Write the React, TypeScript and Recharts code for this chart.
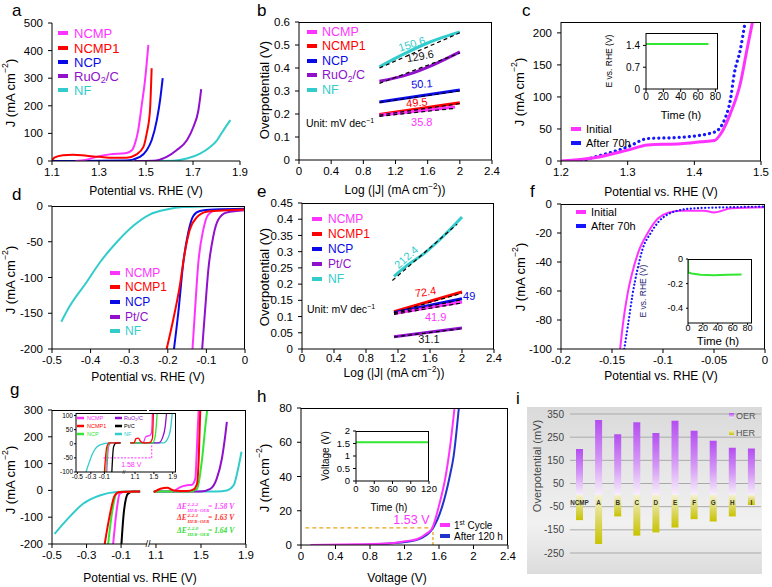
import React from 'react';
import { ComposedChart, Line, XAxis, YAxis, ReferenceLine, ReferenceDot, BarChart, Bar, CartesianGrid, LabelList } from 'recharts';

const FONT = '"Liberation Sans", Arial, Helvetica, sans-serif';
const MAG = '#ff33ff';
const RED = '#ff0000';
const BLU = '#0a0ae6';
const PUR = '#9010cc';
const CYN = '#33cccc';
const GRN = '#33e633';
const BLK = '#000000';

type Pts = [number, number][];

// ---------- panel a : OER LSV ----------
const aNCMP: Pts = [[1.2, 0], [1.247, 5], [1.29, 15], [1.346, 24], [1.417, 29], [1.44, 39], [1.453, 63], [1.467, 112], [1.481, 197], [1.496, 294], [1.51, 421]];
const aNCMP1: Pts = [[1.1, 0], [1.11, 12], [1.147, 21], [1.19, 23], [1.247, 19], [1.304, 15], [1.36, 12], [1.417, 12], [1.46, 24], [1.489, 51], [1.503, 100], [1.517, 184], [1.524, 336]];
const aNCP: Pts = [[1.1, 0], [1.417, 2], [1.474, 15], [1.503, 39], [1.524, 75], [1.546, 148], [1.56, 221], [1.571, 300]];
const aRuO2: Pts = [[1.45, 0], [1.53, 1], [1.588, 15], [1.63, 39], [1.674, 75], [1.702, 124], [1.723, 184], [1.735, 260]];
const aNF: Pts = [[1.5, 0], [1.617, 1], [1.674, 9], [1.73, 27], [1.773, 51], [1.802, 75], [1.83, 112], [1.859, 148]];

// ---------- panel b : OER Tafel ----------
const bNF: Pts = [[1.0, 0.405], [1.3, 0.46], [1.63, 0.513], [2.0, 0.557]];
const bRuO2: Pts = [[1.0, 0.342], [1.34, 0.37], [1.67, 0.414], [2.0, 0.47]];
const bNCP: Pts = [[1.0, 0.252], [2.0, 0.304]];
const bNCMP1: Pts = [[1.0, 0.198], [2.0, 0.249]];
const bNCMP: Pts = [[1.0, 0.195], [1.94, 0.23]];
const bFitNF: Pts = [[1.0, 0.4], [2.0, 0.553]];
const bFitRuO2: Pts = [[1.0, 0.333], [2.0, 0.465]];
const bFitNCP: Pts = [[1.0, 0.25], [2.0, 0.3]];
const bFitNCMP1: Pts = [[1.0, 0.195], [2.0, 0.245]];
const bFitNCMP: Pts = [[1.0, 0.19], [1.95, 0.225]];

// ---------- panel c : OER stability ----------
const cInitial: Pts = [[1.2, 0], [1.25, 5], [1.3, 17], [1.33, 25], [1.38, 27], [1.41, 30], [1.43, 32], [1.44, 43], [1.454, 74], [1.469, 121], [1.479, 174], [1.488, 221]];
const cAfter: Pts = [[1.23, 0], [1.25, 6], [1.3, 22], [1.33, 35], [1.38, 37], [1.43, 45], [1.447, 69], [1.454, 95], [1.46, 137], [1.469, 174], [1.476, 216]];
const cInset: Pts = [[0, 1.45], [72, 1.45]];

// ---------- panel d : HER LSV ----------
const dNF: Pts = [[-0.476, -162], [-0.454, -140], [-0.411, -107], [-0.376, -79], [-0.333, -51], [-0.29, -28], [-0.247, -12], [-0.203, -5], [-0.16, -1.5], [-0.1, -0.5], [0, 0]];
const dNCMP1: Pts = [[-0.203, -200], [-0.186, -159], [-0.169, -112], [-0.156, -65], [-0.143, -33], [-0.125, -16], [-0.099, -8], [-0.047, -6], [0, -5]];
const dNCP: Pts = [[-0.184, -200], [-0.173, -150], [-0.16, -80], [-0.147, -37], [-0.134, -14], [-0.117, -7], [-0.08, -5], [0, -4]];
const dNCMP: Pts = [[-0.136, -200], [-0.13, -150], [-0.121, -80], [-0.108, -33], [-0.095, -12], [-0.073, -6], [0, -5]];
const dPtC: Pts = [[-0.111, -200], [-0.104, -150], [-0.095, -89], [-0.082, -42], [-0.069, -19], [-0.048, -9], [0, -6]];

// ---------- panel e : HER Tafel ----------
const eNF: Pts = [[1.15, 0.224], [1.31, 0.257], [1.52, 0.293], [1.73, 0.339], [2.0, 0.407]];
const eNCMP1: Pts = [[1.15, 0.115], [2.0, 0.176]];
const eNCP: Pts = [[1.15, 0.112], [2.0, 0.155]];
const eNCMP: Pts = [[1.15, 0.109], [2.0, 0.145]];
const ePtC: Pts = [[1.15, 0.038], [2.0, 0.065]];
const eFitNF: Pts = [[1.13, 0.211], [1.94, 0.385]];
const eFitNCMP1: Pts = [[1.15, 0.112], [2.0, 0.172]];
const eFitNCP: Pts = [[1.15, 0.11], [2.0, 0.152]];
const eFitNCMP: Pts = [[1.15, 0.107], [2.0, 0.142]];
const eFitPtC: Pts = [[1.15, 0.037], [2.0, 0.063]];

// ---------- panel f : HER stability ----------
const fInitial: Pts = [[-0.142, -100], [-0.1395, -84], [-0.135, -63], [-0.13, -47], [-0.123, -31], [-0.115, -20], [-0.105, -10], [-0.095, -6], [-0.082, -4.6], [-0.06, -4.6], [-0.05, -5.8], [-0.033, -3], [0, -2.3]];
const fAfter: Pts = [[-0.138, -100], [-0.134, -82], [-0.13, -63], [-0.125, -45], [-0.12, -31], [-0.112, -20], [-0.104, -12], [-0.095, -7], [-0.085, -4.5], [-0.07, -3], [-0.05, -2.5], [0, -1.8]];
const fInset: Pts = [[0, 0], [0.3, -0.11], [5, -0.118], [17, -0.128], [35, -0.132], [53, -0.128], [72, -0.125]];

// ---------- panel g : combined ----------
const gNF_L: Pts = [[-0.485, -162], [-0.417, -112], [-0.32, -50], [-0.224, -19], [-0.127, -6], [-0.03, -4], [0.01, -4]];
const gNCMP1_L: Pts = [[-0.195, -200], [-0.166, -94], [-0.137, -19], [-0.108, -6], [0.01, -4]];
const gNCP_L: Pts = [[-0.175, -200], [-0.152, -81], [-0.127, -12], [-0.1, -5], [0.01, -4]];
const gNCMP_L: Pts = [[-0.146, -200], [-0.127, -81], [-0.108, -12], [-0.08, -5], [0.01, -4]];
const gPtC_L: Pts = [[-0.098, -200], [-0.084, -81], [-0.06, -12], [-0.03, -4], [0.01, -4]];
const gNCMP1_R: Pts = [[1.08, -6], [1.14, 6], [1.2, 10], [1.257, 0], [1.376, -2], [1.435, 4], [1.465, 25], [1.48, 119], [1.494, 306]];
const gNCMP_R: Pts = [[1.257, -4], [1.316, 12], [1.376, 19], [1.42, 21], [1.45, 44], [1.46, 120], [1.47, 220], [1.48, 305]];
const gNCP_R: Pts = [[1.08, -4], [1.405, -4], [1.465, 6], [1.51, 119], [1.54, 244], [1.555, 300]];
const gRuO2_R: Pts = [[1.08, -4], [1.494, -4], [1.583, 6], [1.64, 44], [1.686, 119], [1.716, 206], [1.73, 256]];
const gNF_R: Pts = [[1.08, -4], [1.64, -4], [1.73, 0], [1.79, 19], [1.83, 81], [1.86, 144]];
const giNF_L: Pts = [[-0.372, -100], [-0.263, -29], [-0.164, -4], [-0.016, 3], [0.14, 3]];
const giNCMP1_L: Pts = [[-0.1, -100], [-0.065, -12], [-0.03, 3], [0.14, 3]];
const giNCP_L: Pts = [[-0.08, -100], [-0.05, -12], [-0.02, 3]];
const giNCMP_L: Pts = [[-0.065, -100], [-0.04, -12], [-0.01, 3]];
const giPtC_L: Pts = [[0.01, -100], [0.035, -12], [0.07, 2], [0.14, 3]];
const giNCMP1_R: Pts = [[1.0, 3], [1.08, 3], [1.12, 18], [1.17, 20], [1.22, 8], [1.3, 3], [1.42, 5], [1.47, 20], [1.49, 109]];
const giNCMP_R: Pts = [[1.28, 3], [1.33, 25], [1.42, 30], [1.45, 40], [1.47, 109]];
const giNCP_R: Pts = [[1.0, 3], [1.47, 3], [1.52, 20], [1.55, 60], [1.57, 109]];
const giRuO2_R: Pts = [[1.0, 3], [1.6, 3], [1.68, 20], [1.74, 60], [1.77, 109]];
const giNF_R: Pts = [[1.0, 3], [1.7, 3], [1.8, 20], [1.86, 60], [1.89, 109]];

// ---------- panel h : overall water splitting ----------
const hFirst: Pts = [[0.11, 0], [0.65, 0.4], [1.04, 1], [1.23, 2.3], [1.35, 3.5], [1.46, 6.8], [1.52, 9.7], [1.6, 23], [1.68, 41], [1.73, 58], [1.78, 80]];
const hAfter: Pts = [[0.65, 0], [1.23, 1.9], [1.39, 3.9], [1.48, 6.8], [1.54, 10.7], [1.64, 23], [1.72, 39], [1.77, 52], [1.83, 80]];
const hInset: Pts = [[0, 1.55], [120, 1.55]];

// ---------- panel i : comparison ----------
const iCats = ['NCMP', 'A', 'B', 'C', 'D', 'E', 'F', 'G', 'H', 'I'];
const iOER = [199, 324, 263, 314, 268, 321, 278, 235, 204, 201];
const iHER = [-108, -211, -92, -175, -161, -140, -104, -114, -92, -43];
const iData = iCats.map((cat, k) => ({ cat, oer: iOER[k], her: iHER[k] }));

function mk(p: Pts, color: string, w = 2, extra: any = {}) {
  return (
    <Line data={p.map(([x, y]) => ({ x, y }))} dataKey="y" type="monotone" stroke={color} strokeWidth={w}
      dot={false} activeDot={false} isAnimationActive={false} {...extra} />
  );
}
const fitDash = { strokeDasharray: '4 3' };

function Plot(props: any) {
  const { L, T, W, H, xd, yd, xt, yt, fs = 11.5, box = 'tr', hideY = false, yW = 45, xH = 22, ts = 4, tmx = 3, tmy = 5, children } = props;
  const M = 12;
  const yw = hideY ? 0 : yW;
  const tick = { fontSize: fs, fill: '#000' };
  return (
    <div style={{ position: 'absolute', left: L - yw - M, top: T - M, width: W + yw + 2 * M, height: H + xH + 2 * M }}>
      <ComposedChart width={W + yw + 2 * M} height={H + xH + 2 * M} margin={{ top: M, right: M, bottom: M, left: M }}>
        <XAxis type="number" dataKey="x" domain={xd} ticks={xt} interval={0} allowDataOverflow height={xH}
          tickSize={ts} tickMargin={tmx} stroke="#000" tick={tick} />
        <YAxis type="number" dataKey="y" domain={yd} ticks={yt} interval={0} allowDataOverflow width={yw} hide={hideY}
          tickSize={ts} tickMargin={tmy} stroke="#000" tick={tick} />
        {children}
      </ComposedChart>
      {box !== 'none' && (
        <div style={{
          position: 'absolute', left: yw + M, top: M, width: W, height: H, boxSizing: 'border-box', pointerEvents: 'none',
          borderTop: '1px solid #000', borderRight: box === 'tr' ? '1px solid #000' : 'none',
        }} />
      )}
    </div>
  );
}

function lbl(x: number, y: number, value: string, fill: string, fs = 11, angle = 0) {
  return (
    <ReferenceDot x={x} y={y} r={0} fill="none" stroke="none" ifOverflow="visible"
      label={{ value, fill, fontSize: fs, angle, position: 'center' }} />
  );
}

const Jt = (fs: number) => (
  <>J (mA cm<tspan dy={-fs * 0.38} fontSize={fs * 0.68}>−2</tspan><tspan dy={fs * 0.38}>)</tspan></>
);
const LogT = (fs: number) => (
  <>Log (|J| (mA cm<tspan dy={-fs * 0.38} fontSize={fs * 0.68}>−2</tspan><tspan dy={fs * 0.38}>))</tspan></>
);

function YT({ x, y, fs = 13, fill = '#000', children }: any) {
  return (
    <text x={x} y={y} transform={`rotate(-90 ${x} ${y})`} textAnchor="middle" dominantBaseline="central" fontSize={fs} fill={fill}>{children}</text>
  );
}
function XT({ x, y, fs = 12, children }: any) {
  return <text x={x} y={y} textAnchor="middle" fontSize={fs} fill="#000">{children}</text>;
}
function Leg({ x, y, tx, color, fs = 12.5, sw = 10, sh = 4, tc, children }: any) {
  return (
    <g>
      <rect x={x} y={y - sh / 2} width={sw} height={sh} fill={color} />
      <text x={tx} y={y} dominantBaseline="central" fontSize={fs} fill={tc || color}>{children}</text>
    </g>
  );
}
const RuO = (fs: number) => (<>RuO<tspan dy={fs * 0.3} fontSize={fs * 0.7}>2</tspan><tspan dy={-fs * 0.3}>/C</tspan></>);

function DE({ x, y, color, sup, val }: any) {
  return (
    <g fill={color} fontFamily='"Liberation Serif", serif' fontStyle="italic" fontWeight="bold">
      <text x={x} y={y} fontSize={7.5}>ΔE</text>
      <text x={x + 10.5} y={y - 3} fontSize={5}>{sup}</text>
      <text x={x + 10.5} y={y + 2.5} fontSize={4.6}>HER−OER</text>
      <text x={x + 31} y={y} fontSize={7.5}>= {val} V</text>
    </g>
  );
}

const catLabel = (p: any) => (
  <text x={Number(p.x) + Number(p.width) / 2} y={Number(p.y) + Number(p.height) + 9.5} textAnchor="middle"
    fontSize={6.3} fontWeight="bold" fill="#333">{p.value}</text>
);

export default function App() {
  return (
    <div style={{ position: 'absolute', left: 0, top: 0, width: 772, height: 587, background: '#fff', fontFamily: FONT, overflow: 'hidden' }}>
      <svg width={0} height={0} style={{ position: 'absolute' }}>
        <defs>
          <linearGradient id="gOER" x1="0" y1="0" x2="0" y2="1">
            <stop offset="0%" stopColor="#b44ef0" />
            <stop offset="55%" stopColor="#d59af5" />
            <stop offset="100%" stopColor="#f7f0fb" />
          </linearGradient>
          <linearGradient id="gHER" x1="0" y1="0" x2="0" y2="1">
            <stop offset="0%" stopColor="#f4f2cf" />
            <stop offset="50%" stopColor="#dcd866" />
            <stop offset="100%" stopColor="#c8c300" />
          </linearGradient>
        </defs>
      </svg>

      {/* a */}
      <Plot L={52} T={23} W={188} H={138} xd={[1.1, 1.9]} yd={[0, 500]} xt={[1.1, 1.3, 1.5, 1.7, 1.9]} yt={[0, 100, 200, 300, 400, 500]} box="none">
        {mk(aNF, CYN)}
        {mk(aRuO2, PUR)}
        {mk(aNCP, BLU)}
        {mk(aNCMP, MAG)}
        {mk(aNCMP1, RED)}
      </Plot>

      {/* b */}
      <Plot L={299} T={22} W={193} H={138} xd={[0, 2.4]} yd={[0, 0.6]} xt={[0, 0.4, 0.8, 1.2, 1.6, 2, 2.4]} yt={[0, 0.1, 0.2, 0.3, 0.4, 0.5, 0.6]}>
        {mk(bNF, CYN, 3)}
        {mk(bRuO2, PUR, 3)}
        {mk(bNCP, BLU, 3)}
        {mk(bNCMP1, RED, 3)}
        {mk(bNCMP, MAG, 3)}
        {mk(bFitNF, BLK, 1.2, fitDash)}
        {mk(bFitRuO2, BLK, 1.2, fitDash)}
        {mk(bFitNCP, BLK, 1, fitDash)}
        {mk(bFitNCMP1, BLK, 1.2, fitDash)}
        {mk(bFitNCMP, BLK, 1.2, fitDash)}
        {lbl(1.403, 0.504, '150.6', CYN, 11, -17)}
        {lbl(1.506, 0.452, '129.6', '#111', 11, -10)}
        {lbl(1.527, 0.331, '50.1', BLU, 11, -4)}
        {lbl(1.465, 0.25, '49.5', RED, 11, -6)}
        {lbl(1.527, 0.163, '35.8', MAG, 11, 0)}
      </Plot>

      {/* c */}
      <Plot L={561} T={22} W={200} H={139} xd={[1.2, 1.5]} yd={[0, 217]} xt={[1.2, 1.3, 1.4, 1.5]} yt={[0, 50, 100, 150, 200]}>
        {mk(cAfter, '#1515ff', 3.2, { strokeDasharray: '0.1 5', strokeLinecap: 'round' })}
        {mk(cInitial, MAG, 3)}
      </Plot>
      <Plot L={646} T={33} W={72} H={56} xd={[0, 83]} yd={[0, 1.8]} xt={[0, 20, 40, 60, 80]} yt={[0, 0.7, 1.4]} fs={10} yW={30} xH={16} ts={3} tmx={1} tmy={3}>
        {mk(cInset, GRN, 2)}
      </Plot>

      {/* d */}
      <Plot L={52} T={206} W={193} H={143} xd={[-0.5, 0]} yd={[-200, 0]} xt={[-0.5, -0.4, -0.3, -0.2, -0.1, 0]} yt={[-200, -150, -100, -50, 0]}>
        {mk(dNF, CYN)}
        {mk(dPtC, PUR)}
        {mk(dNCMP, MAG)}
        {mk(dNCP, BLU)}
        {mk(dNCMP1, RED)}
      </Plot>

      {/* e */}
      <Plot L={302} T={203} W={192} H={146} xd={[0, 2.4]} yd={[0, 0.45]} xt={[0, 0.4, 0.8, 1.2, 1.6, 2, 2.4]} yt={[0, 0.05, 0.1, 0.15, 0.2, 0.25, 0.3, 0.35, 0.4, 0.45]} tmx={1}>
        {mk(eNF, CYN, 3)}
        {mk(eNCMP1, RED, 3)}
        {mk(eNCP, BLU, 3)}
        {mk(eNCMP, MAG, 3)}
        {mk(ePtC, PUR, 3)}
        {mk(eFitNF, BLK, 1.2, fitDash)}
        {mk(eFitNCMP1, BLK, 1.2, fitDash)}
        {mk(eFitNCP, BLK, 1.2, fitDash)}
        {mk(eFitNCMP, BLK, 1.2, fitDash)}
        {mk(eFitPtC, BLK, 1.2, fitDash)}
        {lbl(1.302, 0.283, '212.4', CYN, 11, -42)}
        {lbl(1.544, 0.176, '72.4', RED, 11, -8)}
        {lbl(2.09, 0.164, '49', BLU, 11, 0)}
        {lbl(1.67, 0.098, '41.9', MAG, 11, 0)}
        {lbl(1.586, 0.029, '31.1', '#111', 11, 0)}
      </Plot>

      {/* f */}
      <Plot L={561} T={204} W={204} H={145} xd={[-0.2, 0]} yd={[-100, 0]} xt={[-0.2, -0.15, -0.1, -0.05, 0]} yt={[-100, -80, -60, -40, -20, 0]}>
        {mk(fInitial, MAG, 2)}
        {mk(fAfter, '#1515ff', 2.2, { strokeDasharray: '0.1 3.5', strokeLinecap: 'round' })}
      </Plot>
      <Plot L={688} T={259} W={64} H={64} xd={[0, 86]} yd={[-0.52, 0]} xt={[0, 20, 40, 60, 80]} yt={[-0.4, -0.2, 0]} fs={9} yW={32} xH={12} ts={2} tmx={0} tmy={3}>
        {mk(fInset, GRN, 2, { type: 'linear' })}
      </Plot>

      {/* g main */}
      <Plot L={52} T={410} W={95} H={134} xd={[-0.5, 0.05]} yd={[-200, 300]} xt={[-0.5, -0.3, -0.1]} yt={[-200, -100, 0, 100, 200, 300]} box="t">
        {mk(gNF_L, CYN)}
        {mk(gPtC_L, BLK)}
        {mk(gNCMP_L, MAG)}
        {mk(gNCP_L, GRN)}
        {mk(gNCMP1_L, RED)}
      </Plot>
      <Plot L={149} T={410} W={97} H={134} xd={[1.038, 1.9]} yd={[-200, 300]} xt={[1.1, 1.5, 1.9]} hideY>
        {mk(gNF_R, CYN)}
        {mk(gRuO2_R, PUR)}
        {mk(gNCP_R, GRN)}
        {mk(gNCMP_R, MAG)}
        {mk(gNCMP1_R, RED)}
      </Plot>
      {/* g inset */}
      <Plot L={76} T={413} W={48} H={59} xd={[-0.52, 0.19]} yd={[-100, 109]} xt={[-0.5, -0.3, -0.1]} yt={[-100, -50, 0, 50, 100]} fs={6.5} yW={16} xH={10} ts={2} tmx={0} tmy={1} box="t">
        <ReferenceLine segment={[{ x: -0.115, y: -50 }, { x: 0.19, y: -50 }]} stroke={MAG} strokeDasharray="2 1.5" ifOverflow="visible" />
        {mk(giNF_L, CYN, 1.3)}
        {mk(giPtC_L, BLK, 1.3)}
        {mk(giNCMP_L, MAG, 1.3)}
        {mk(giNCP_L, GRN, 1.3)}
        {mk(giNCMP1_L, RED, 1.3)}
      </Plot>
      <Plot L={124} T={413} W={52} H={59} xd={[0.866, 1.97]} yd={[-100, 109]} xt={[1.1, 1.5, 1.9]} fs={6.5} xH={10} ts={2} tmx={0} hideY>
        <ReferenceLine segment={[{ x: 0.866, y: -50 }, { x: 1.455, y: -50 }]} stroke={MAG} strokeDasharray="2 1.5" ifOverflow="visible" />
        <ReferenceLine segment={[{ x: 1.455, y: -50 }, { x: 1.455, y: 5 }]} stroke={MAG} strokeDasharray="2 1.5" ifOverflow="visible" />
        {mk(giNF_R, CYN, 1.3)}
        {mk(giRuO2_R, PUR, 1.3)}
        {mk(giNCP_R, GRN, 1.3)}
        {mk(giNCMP_R, MAG, 1.3)}
        {mk(giNCMP1_R, RED, 1.3)}
        {lbl(1.02, -72, '1.58 V', MAG, 7, 0)}
      </Plot>

      {/* h */}
      <Plot L={301} T={408} W={207} H={137} xd={[0, 2.4]} yd={[0, 80]} xt={[0, 0.4, 0.8, 1.2, 1.6, 2, 2.4]} yt={[0, 20, 40, 60, 80]}>
        <ReferenceLine segment={[{ x: 0.05, y: 10 }, { x: 1.53, y: 10 }]} stroke="#e8a418" strokeWidth={1.3} strokeDasharray="4 3" />
        <ReferenceLine segment={[{ x: 1.53, y: 0 }, { x: 1.53, y: 10 }]} stroke="#e8a418" strokeWidth={1.3} strokeDasharray="3 2" />
        {mk(hAfter, '#2233cc', 2)}
        {mk(hFirst, MAG, 2)}
        {lbl(1.28, 14.8, '1.53 V', MAG, 12.5, 0)}
      </Plot>
      <Plot L={356} T={431} W={73} H={50} xd={[0, 120]} yd={[0, 2]} xt={[0, 30, 60, 90, 120]} yt={[0, 0.5, 1, 1.5, 2]} fs={9.5} yW={24} xH={14} ts={3} tmx={1} tmy={3}>
        {mk(hInset, GRN, 2.2)}
      </Plot>

      {/* i */}
      <div style={{ position: 'absolute', left: 527, top: 407, width: 235, height: 167, background: 'linear-gradient(180deg, #dadada 0%, #e9e9e9 45%, #f1f1f1 70%, #dcdcdc 100%)' }} />
      <div style={{ position: 'absolute', left: 570 - 36 - 10, top: 414 - 10 }}>
        <BarChart width={191 + 36 + 20} height={139 + 20} data={iData} stackOffset="sign" margin={{ top: 10, right: 10, bottom: 10, left: 10 }} barSize={7}>
          <CartesianGrid vertical={false} stroke="#a9a9a9" />
          <XAxis dataKey="cat" hide />
          <YAxis type="number" domain={[-250, 350]} ticks={[-250, -150, -50, 50, 150, 250, 350]} interval={0} allowDataOverflow width={36}
            axisLine={false} tickLine={false} tickSize={4} tick={{ fontSize: 10, fill: '#444' }} />
          <Bar dataKey="oer" stackId="s" fill="url(#gOER)" isAnimationActive={false}>
            <LabelList dataKey="cat" content={catLabel} />
          </Bar>
          <Bar dataKey="her" stackId="s" fill="url(#gHER)" isAnimationActive={false} />
        </BarChart>
      </div>

      {/* overlay texts */}
      <svg width={772} height={587} style={{ position: 'absolute', left: 0, top: 0, pointerEvents: 'none' }} fontFamily={FONT}>
        {/* panel letters */}
        <g fontSize={17} fill="#000">
          <text x={12} y={15.5}>a</text>
          <text x={257} y={16}>b</text>
          <text x={522} y={15.5}>c</text>
          <text x={12} y={200}>d</text>
          <text x={257} y={197}>e</text>
          <text x={530} y={197}>f</text>
          <text x={10} y={395}>g</text>
          <text x={257} y={402}>h</text>
          <text x={516} y={404}>i</text>
        </g>

        {/* axis titles */}
        <YT x={10} y={93}>{Jt(13)}</YT>
        <XT x={146} y={195}>Potential vs. RHE (V)</XT>
        <YT x={264} y={90}>Overpotential (V)</YT>
        <XT x={395} y={194}>{LogT(12)}</XT>
        <YT x={519} y={92}>{Jt(13)}</YT>
        <XT x={661} y={196}>Potential vs. RHE (V)</XT>
        <YT x={10} y={280}>{Jt(13)}</YT>
        <XT x={148} y={381}>Potential vs. RHE (V)</XT>
        <YT x={264} y={277}>Overpotential (V)</YT>
        <XT x={394} y={377}>{LogT(12)}</XT>
        <YT x={520} y={277}>{Jt(13)}</YT>
        <XT x={661} y={380}>Potential vs. RHE (V)</XT>
        <YT x={10} y={480}>{Jt(13)}</YT>
        <XT x={140} y={582}>Potential vs. RHE (V)</XT>
        <YT x={264} y={478}>{Jt(13)}</YT>
        <XT x={397} y={582}>Voltage (V)</XT>
        <YT x={537} y={466} fs={11} fill="#444">Overpotential (mV)</YT>

        {/* inset titles */}
        <YT x={609} y={61} fs={8.5}>E vs. RHE (V)</YT>
        <XT x={681} y={119} fs={11}>Time (h)</XT>
        <YT x={643} y={291} fs={8.5} fill="#1c1c70">E vs. RHE (V)</YT>
        <XT x={718} y={345} fs={11.5}>Time (h)</XT>
        <YT x={325} y={456} fs={10}>Voltage (V)</YT>
        <XT x={389} y={511} fs={10}>Time (h)</XT>

        {/* legend a */}
        <Leg x={58} y={33} tx={74} color={MAG} fs={13}>NCMP</Leg>
        <Leg x={58} y={48} tx={74} color={RED} fs={13}>NCMP1</Leg>
        <Leg x={58} y={62} tx={74} color={BLU} fs={13}>NCP</Leg>
        <Leg x={58} y={76} tx={74} color={PUR} fs={13}>{RuO(13)}</Leg>
        <Leg x={58} y={90} tx={74} color={CYN} fs={13}>NF</Leg>

        {/* legend b */}
        <Leg x={307} y={32} tx={322} color={MAG}>NCMP</Leg>
        <Leg x={307} y={46} tx={322} color={RED}>NCMP1</Leg>
        <Leg x={307} y={61} tx={322} color={BLU}>NCP</Leg>
        <Leg x={307} y={75} tx={322} color={PUR}>{RuO(12.5)}</Leg>
        <Leg x={307} y={90} tx={322} color={CYN}>NF</Leg>
        <text x={306} y={123} fontSize={10.5} dominantBaseline="central" fill="#000">Unit: mV dec<tspan dy={-3.5} fontSize={7}>−1</tspan></text>

        {/* legend c */}
        <Leg x={571} y={129} tx={586} color={MAG} tc="#000" fs={11}>Initial</Leg>
        <Leg x={571} y={143} tx={586} color="#1515ff" tc="#000" fs={11}>After 70h</Leg>

        {/* legend d */}
        <Leg x={110} y={273} tx={125} color={MAG} fs={12}>NCMP</Leg>
        <Leg x={110} y={287} tx={125} color={RED} fs={12}>NCMP1</Leg>
        <Leg x={110} y={302} tx={125} color={BLU} fs={12}>NCP</Leg>
        <Leg x={110} y={317} tx={125} color={PUR} fs={12}>Pt/C</Leg>
        <Leg x={110} y={331} tx={125} color={CYN} fs={12}>NF</Leg>

        {/* legend e */}
        <Leg x={312} y={219} tx={328} color={MAG} fs={12}>NCMP</Leg>
        <Leg x={312} y={234} tx={328} color={RED} fs={12}>NCMP1</Leg>
        <Leg x={312} y={249} tx={328} color={BLU} fs={12}>NCP</Leg>
        <Leg x={312} y={264} tx={328} color={PUR} fs={12}>Pt/C</Leg>
        <Leg x={312} y={279} tx={328} color={CYN} fs={12}>NF</Leg>
        <text x={307} y={309} fontSize={10.5} dominantBaseline="central" fill="#000">Unit: mV dec<tspan dy={-3.5} fontSize={7}>−1</tspan></text>

        {/* legend f */}
        <Leg x={576} y={212} tx={591} color={MAG} tc="#000" fs={11}>Initial</Leg>
        <Leg x={576} y={226} tx={591} color="#1515ff" tc="#000" fs={11}>After 70h</Leg>

        {/* g inset legend */}
        <Leg x={77} y={418} tx={87} color={MAG} fs={5.5} sw={7} sh={2.5}>NCMP</Leg>
        <Leg x={77} y={426} tx={87} color={RED} fs={5.5} sw={7} sh={2.5}>NCMP1</Leg>
        <Leg x={77} y={434} tx={87} color={GRN} fs={5.5} sw={7} sh={2.5}>NCP</Leg>
        <Leg x={115} y={418} tx={124} color={PUR} fs={5.5} sw={7} sh={2.5}>{RuO(5.5)}</Leg>
        <Leg x={115} y={426} tx={124} color={BLK} fs={5.5} sw={7} sh={2.5}>Pt/C</Leg>
        <Leg x={115} y={434} tx={124} color={CYN} fs={5.5} sw={7} sh={2.5}>NF</Leg>
        <text x={148} y={547} fontSize={9} textAnchor="middle" fill="#000">//</text>
        <text x={124} y={474} fontSize={5} textAnchor="middle" fill="#000">//</text>
        <DE x={177} y={509} color="#ff44ff" sup="2-2-2" val="1.58" />
        <DE x={177} y={520} color="#ff3030" sup="2-2-1" val="1.63" />
        <DE x={177} y={533} color="#33dd33" sup="2-2-0" val="1.64" />

        {/* legend h */}
        <Leg x={440} y={525} tx={454} color={MAG} tc="#000" fs={10}>1<tspan dy={-3} fontSize={6.5}>st</tspan><tspan dy={3}> Cycle</tspan></Leg>
        <Leg x={440} y={536} tx={454} color="#2233cc" tc="#000" fs={10}>After 120 h</Leg>

        {/* legend i */}
        <rect x={729} y={413} width={5} height={5} fill="url(#gOER)" />
        <text x={736} y={416} fontSize={9} dominantBaseline="central" fill="#555">OER</text>
        <rect x={729} y={430} width={5} height={5} fill="url(#gHER)" />
        <text x={736} y={433} fontSize={9} dominantBaseline="central" fill="#555">HER</text>
      </svg>
    </div>
  );
}
